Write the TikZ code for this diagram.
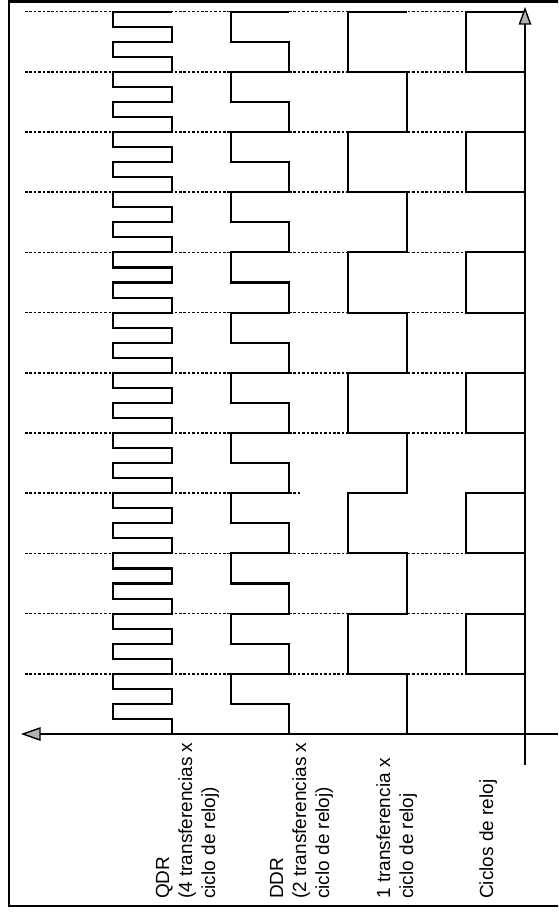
\documentclass[tikz,border=0pt]{standalone}
\usepackage{fontspec}
\setmainfont{Liberation Sans}
\begin{document}
\begin{tikzpicture}[x=1pt,y=-1pt,
  sig/.style={line width=2.1pt, line join=miter},
  gridline/.style={line width=1.5pt, dash pattern=on 2.6pt off 1.8pt},
  axisline/.style={line width=1.8pt},
  lbl/.style={rotate=90, anchor=base west, inner sep=0pt, font=\fontsize{19}{23}\selectfont},
  tiphead/.style={draw=black, line width=1.4pt, fill=black!30, line join=miter}]
\useasboundingbox (0,0) rectangle (558,912);
\clip (0,0) rectangle (558,912);
\fill[white] (0,0) rectangle (558,912);
% frame
\draw[line width=2.8pt] (570,1.5) -- (9,1.5) -- (9,906) -- (570,906);
% dashed time marks
\foreach \k in {0,...,7,9,10,11}
  \draw[gridline] (25,{11.6+60.2*\k}) -- (525,{11.6+60.2*\k});
\draw[gridline] (25,{11.6+60.2*8}) -- (300,{11.6+60.2*8});
% signals
\foreach \L/\R/\P/\N in {113/172/30.1/24, 231/289/60.2/12, 348/407/120.4/6, 466/525/120.4/6}
  \draw[sig] (\R,11.6) foreach \j in {1,...,\N} { -- (\L,{11.6+(\j-1)*\P}) -- (\L,{11.6+(\j-0.5)*\P}) -- (\R,{11.6+(\j-0.5)*\P}) -- (\R,{11.6+\j*\P}) };
% axes
\coordinate (vtop) at (525,24);
\coordinate (vbot) at (525,765);
\coordinate (hleft) at (40,734);
\coordinate (hright) at (558,734);
\draw[axisline] (vtop) -- (vbot);
\draw[axisline] (hleft) -- (hright);
\draw[tiphead] (525,9) -- (530.5,24) -- (519.5,24) -- cycle;
\draw[tiphead] (23,734) -- (40,728) -- (40,740) -- cycle;
% labels
\node[lbl] (qdr1) at (169,899) {QDR};
\node[lbl] (qdr2) at (192,899) {(4 transferencias x};
\node[lbl] (qdr3) at (215,899) {ciclo de reloj)};
\node[lbl] (ddr1) at (283,899) {DDR};
\node[lbl] (ddr2) at (306,899) {(2 transferencias x};
\node[lbl] (ddr3) at (329,899) {ciclo de reloj)};
\node[lbl] (one1) at (390,899) {1 transferencia x};
\node[lbl] (one2) at (413,899) {ciclo de reloj};
\node[lbl] (clk) at (493,899) {Ciclos de reloj};
\end{tikzpicture}
\end{document}
